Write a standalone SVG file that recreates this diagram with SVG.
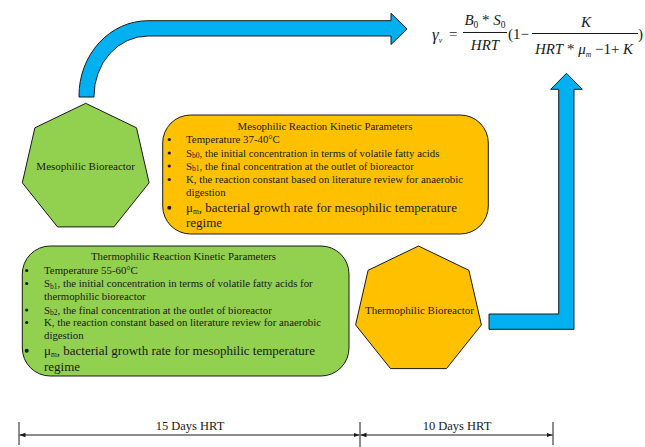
<svg xmlns="http://www.w3.org/2000/svg" width="645" height="447" viewBox="0 0 645 447">
<defs>
<style>
text{font-family:"Liberation Serif","Times New Roman",serif;fill:#1a1a1a}
.sm{font-size:10.8px}
.lbl{font-size:11px}
.big{font-size:13px}
.sub{font-size:7.5px}
.subb{font-size:9.5px}
.it{font-style:italic}
.box{stroke:#1a1a1a;stroke-width:1}
.green{fill:#92D050}
.orange{fill:#FFC000}
.blue{fill:#00B0F0;stroke:#1a1a1a;stroke-width:1}
.dim{stroke:#1a1a1a;stroke-width:1;fill:none}
.math{font-size:15px}
.dot{fill:#1a1a1a}
</style>
<marker id="ah" viewBox="0 0 6 6" refX="6" refY="3" markerWidth="6" markerHeight="6" markerUnits="userSpaceOnUse" orient="auto-start-reverse">
<path d="M0,0.8 L6,3 L0,5.2 Z" fill="#1a1a1a"/>
</marker>
</defs>

<g id="connectors">
<path id="arrow-top" class="blue" d="M79,97 L79,96 A69,75 0 0 1 148,20.7 L391,20.7 L391,13.3 L407,29 L391,44.5 L391,36 L148,36 A54,60 0 0 0 94,96 L94,97 Z"/>
<path id="arrow-right" class="blue" d="M489,314 L558.7,314 L558.7,89.3 L550.7,89.3 L566.5,73.3 L582.3,89.3 L574,89.3 L574,329.3 L489,329.3 Z"/>
</g>

<g id="meso-reactor">
<polygon class="box green" points="85.7,103.3 136.5,127.8 149.1,182.8 113.9,226.9 57.5,226.9 22.3,182.8 34.9,127.8"/>
<text class="lbl" x="85.7" y="170" text-anchor="middle">Mesophilic Bioreactor</text>
</g>

<g id="meso-params">
<rect class="box orange" x="162.7" y="115" width="325.6" height="119" rx="28" ry="28"/>
<text class="sm" x="325" y="129.5" text-anchor="middle">Mesophilic Reaction Kinetic Parameters</text>
<circle class="dot" cx="169.3" cy="139.5" r="1.6"/>
<text class="sm" x="186" y="143">Temperature 37-40°C</text>
<circle class="dot" cx="169.3" cy="153" r="1.6"/>
<text class="sm" x="186" y="156.5">S<tspan class="sub" dy="1.5">b0</tspan><tspan dy="-1.5">, the initial concentration in terms of volatile fatty acids</tspan></text>
<circle class="dot" cx="169.3" cy="166" r="1.6"/>
<text class="sm" x="186" y="169.5">S<tspan class="sub" dy="1.5">b1</tspan><tspan dy="-1.5">, the final concentration at the outlet of bioreactor</tspan></text>
<circle class="dot" cx="169.3" cy="179.5" r="1.6"/>
<text class="sm" x="186" y="183">K, the reaction constant based on literature review for anaerobic</text>
<text class="sm" x="186" y="195.5">digestion</text>
<circle class="dot" cx="169.3" cy="207.8" r="2"/>
<text class="big" x="186" y="212">μ<tspan class="sub" dy="1.5">m</tspan><tspan dy="-1.5">, bacterial growth rate for mesophilic temperature</tspan></text>
<text class="big" x="186" y="226.5">regime</text>
</g>

<g id="thermo-params">
<rect class="box green" x="22.3" y="246" width="326.7" height="130" rx="28" ry="28"/>
<text class="sm" x="183.5" y="260" text-anchor="middle">Thermophilic Reaction Kinetic Parameters</text>
<circle class="dot" cx="26.7" cy="270.5" r="1.6"/>
<text class="sm" x="44" y="274">Temperature 55-60°C</text>
<circle class="dot" cx="26.7" cy="283.5" r="1.6"/>
<text class="sm" x="44" y="287">S<tspan class="sub" dy="1.5">b1</tspan><tspan dy="-1.5">, the initial concentration in terms of volatile fatty acids for</tspan></text>
<text class="sm" x="44" y="300">thermophilic bioreactor</text>
<circle class="dot" cx="26.7" cy="310" r="1.6"/>
<text class="sm" x="44" y="313.5">S<tspan class="sub" dy="1.5">b2</tspan><tspan dy="-1.5">, the final concentration at the outlet of bioreactor</tspan></text>
<circle class="dot" cx="26.7" cy="322.5" r="1.6"/>
<text class="sm" x="44" y="326">K, the reaction constant based on literature review for anaerobic</text>
<text class="sm" x="44" y="339">digestion</text>
<circle class="dot" cx="26.7" cy="350.8" r="2"/>
<text class="big" x="44" y="355">μ<tspan class="sub" dy="1.5">m</tspan><tspan dy="-1.5">, bacterial growth rate for mesophilic temperature</tspan></text>
<text class="big" x="44" y="370.5">regime</text>
</g>

<g id="thermo-reactor">
<polygon class="box orange" points="418.5,246 468.9,270.3 481.4,324.9 446.5,368.6 390.5,368.6 355.6,324.9 368.1,270.3"/>
<text class="lbl" x="419.5" y="313.5" text-anchor="middle">Thermophilic Bioreactor</text>
</g>

<g id="formula">
<text class="it" x="432" y="40" style="font-size:17px">γ<tspan class="sub" dy="2.5">v</tspan></text>
<text class="math" x="449" y="39">=</text>
<text class="math" x="485" y="25" text-anchor="middle"><tspan class="it">B</tspan><tspan class="subb" dy="3">0</tspan><tspan dy="-3"> * </tspan><tspan class="it">S</tspan><tspan class="subb" dy="3">0</tspan></text>
<line class="dim" x1="463" y1="32.5" x2="507" y2="32.5"/>
<text class="math it" x="485" y="50" text-anchor="middle">HRT</text>
<text class="math" x="508" y="39">(1−</text>
<line class="dim" x1="532" y1="33.5" x2="638" y2="33.5"/>
<text class="math it" x="586" y="27" text-anchor="middle">K</text>
<text class="math" x="584" y="54" text-anchor="middle"><tspan class="it">HRT</tspan> * <tspan class="it">μ</tspan><tspan class="sub it" dy="2.5">m</tspan><tspan dy="-2.5"> −1+ </tspan><tspan class="it">K</tspan></text>
<text class="math" x="638" y="39">)</text>
</g>

<g id="timeline">
<line class="dim" x1="19" y1="422" x2="19" y2="445"/>
<line class="dim" x1="360" y1="422" x2="360" y2="447" stroke-width="1.5"/>
<line class="dim" x1="553" y1="422" x2="553" y2="445"/>
<line class="dim" x1="19.5" y1="435" x2="359.5" y2="435" marker-start="url(#ah)" marker-end="url(#ah)"/>
<line class="dim" x1="360.5" y1="435" x2="552.5" y2="435" marker-start="url(#ah)" marker-end="url(#ah)"/>
<text x="190" y="430" text-anchor="middle" style="font-size:12.5px">15 Days HRT</text>
<text x="457" y="430" text-anchor="middle" style="font-size:12.5px">10 Days HRT</text>
</g>
</svg>
